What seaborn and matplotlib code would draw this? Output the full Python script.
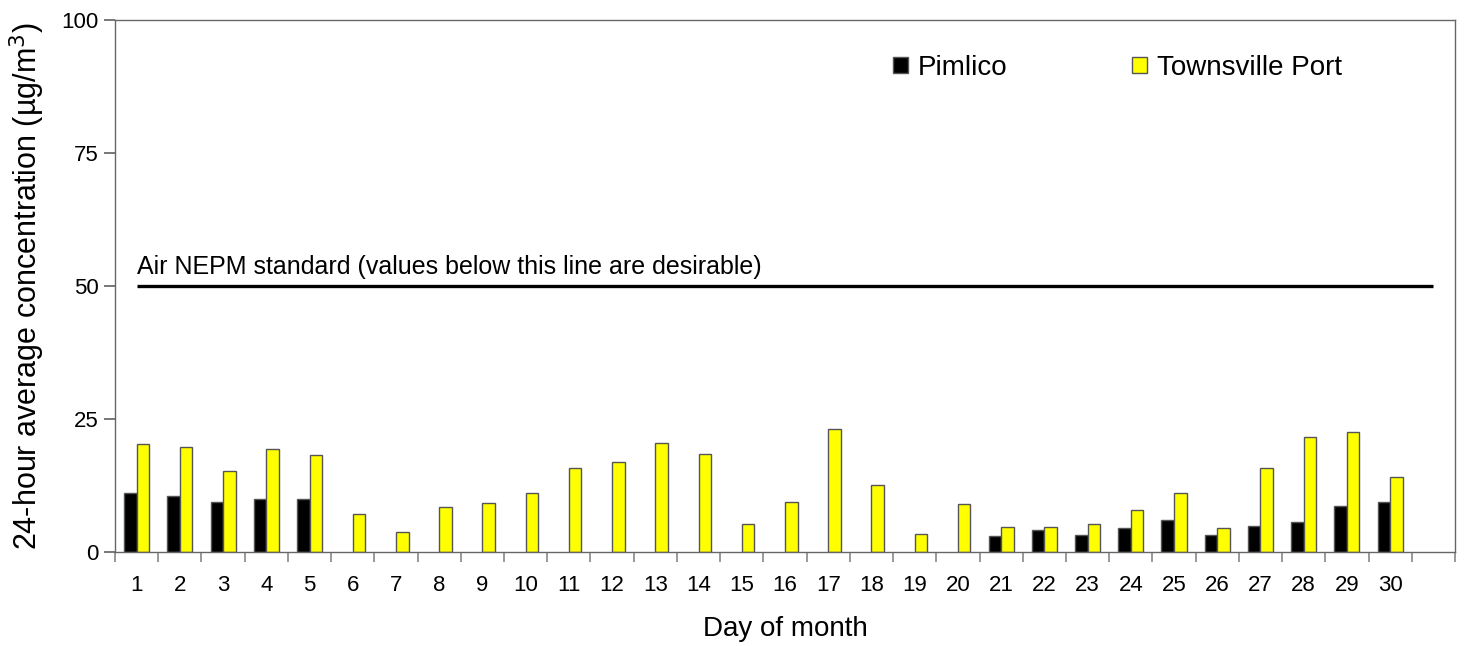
import numpy as np
import pandas as pd
import matplotlib
matplotlib.use("Agg")
import matplotlib.pyplot as plt
from matplotlib.ticker import FixedLocator
import seaborn as sns

days = list(range(1, 31))
pimlico = [11.0, 10.5, 9.3, 9.8, 9.9] + [np.nan] * 15 + \
          [2.9, 4.0, 3.1, 4.5, 5.9, 3.1, 4.8, 5.5, 8.6, 9.4]
townsville = [20.2, 19.6, 15.2, 19.3, 18.1, 7.1, 3.7, 8.4, 9.2, 11.1,
              15.8, 16.9, 20.4, 18.3, 5.2, 9.4, 23.0, 12.5, 3.2, 8.9,
              4.7, 4.7, 5.2, 7.9, 11.1, 4.4, 15.7, 21.5, 22.5, 14.1]
series_names = ["Pimlico", "Townsville Port"]
yticks = [0, 25, 50, 75, 100]
standard = 50
standard_text = "Air NEPM standard (values below this line are desirable)"

rows = []
for d, p, t in zip(days, pimlico, townsville):
    if not np.isnan(p):
        rows.append({"day": d, "site": series_names[0], "value": p})
    rows.append({"day": d, "site": series_names[1], "value": t})
df = pd.DataFrame(rows)

sns.set_theme(style="white")
plt.rcParams["font.family"] = ["Liberation Sans", "DejaVu Sans"]
plt.rcParams["text.color"] = "black"
plt.rcParams["axes.labelcolor"] = "black"
plt.rcParams["xtick.color"] = "black"
plt.rcParams["ytick.color"] = "black"

fig = plt.figure(figsize=(14.65, 6.46), dpi=100)
ax = fig.add_axes([115 / 1465, 1 - 551.5 / 646, 1340 / 1465, 531.5 / 646])

sns.barplot(data=df, x="day", y="value", hue="site", order=days,
            hue_order=series_names, palette=["#000000", "#FFFF00"],
            saturation=1, width=0.58, edgecolor="#555555", linewidth=1.0,
            errorbar=None, ax=ax)

ax.set_xlim(-0.5, 30.5)
ax.set_ylim(0, 100)
ax.set_yticks(yticks)
ax.set_yticklabels([str(v) for v in yticks], fontsize=16)
ax.tick_params(axis="y", which="major", length=8, color="#666666",
               labelcolor="black", direction="out", left=True, pad=4)

ax.set_xticks(range(30))
ax.set_xticklabels([str(d) for d in days], fontsize=16)
ax.tick_params(axis="x", which="major", length=0, pad=17,
               labelcolor="black")
ax.xaxis.set_minor_locator(FixedLocator(np.arange(-0.5, 31, 1.0)))
ax.tick_params(axis="x", which="minor", length=7, color="#888888",
               direction="out", bottom=True, width=1.2)

for s in ax.spines.values():
    s.set_visible(True)
    s.set_color("#666666")
    s.set_linewidth(1.0)

ax.hlines(standard, 0, 30, colors="black", linewidth=2.4, zorder=3)
ax.text(0, standard + 1.3, standard_text, fontsize=18, ha="left",
        va="bottom", color="black")

ax.set_xlabel("Day of month", fontsize=20, labelpad=14, color="black")
ax.set_ylabel("24-hour average concentration (µg/m$^3$)", fontsize=22,
              labelpad=10, color="black")

leg = ax.legend(loc="center left", bbox_to_anchor=(0.5806, 0.91), ncol=2,
                frameon=False, fontsize=20, handlelength=0.55,
                handleheight=0.55, handletextpad=0.33, columnspacing=4.5,
                borderpad=0, borderaxespad=0)
for t in leg.get_texts():
    t.set_color("black")

fig.savefig("out.png", dpi=100)
